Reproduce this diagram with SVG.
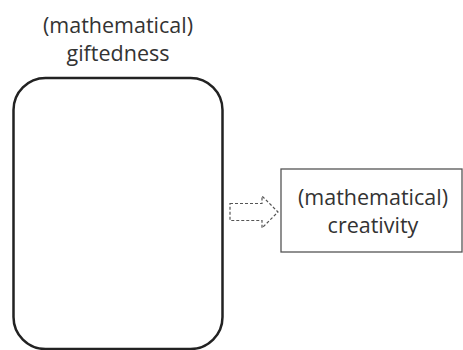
<svg xmlns="http://www.w3.org/2000/svg" width="463" height="350" viewBox="0 0 463 350">
<style>
text{font-family:"Open Sans","Liberation Sans",Arial,sans-serif;font-size:21.5px;fill:#333;text-anchor:middle}
.big{fill:none;stroke:#222;stroke-width:2.5}
.box{fill:#fff;stroke:#555;stroke-width:1.3}
.arr{fill:none;stroke:#555;stroke-width:1.2;stroke-dasharray:3,2}
</style>
<rect width="463" height="350" fill="#fff"/>
<g id="giftedness">
<rect class="big" x="13.5" y="78" width="209" height="271" rx="32" ry="32"/>
<text x="118" y="33">(mathematical)</text>
<text x="118" y="61">giftedness</text>
</g>
<g id="connectors">
<path class="arr" d="M230,203.5 H262 V196 L278,212 L262,228 V220.5 H230 Z"/>
</g>
<g id="creativity">
<rect class="box" x="281" y="169" width="181" height="83"/>
<text x="373" y="205">(mathematical)</text>
<text x="373" y="233">creativity</text>
</g>
</svg>
